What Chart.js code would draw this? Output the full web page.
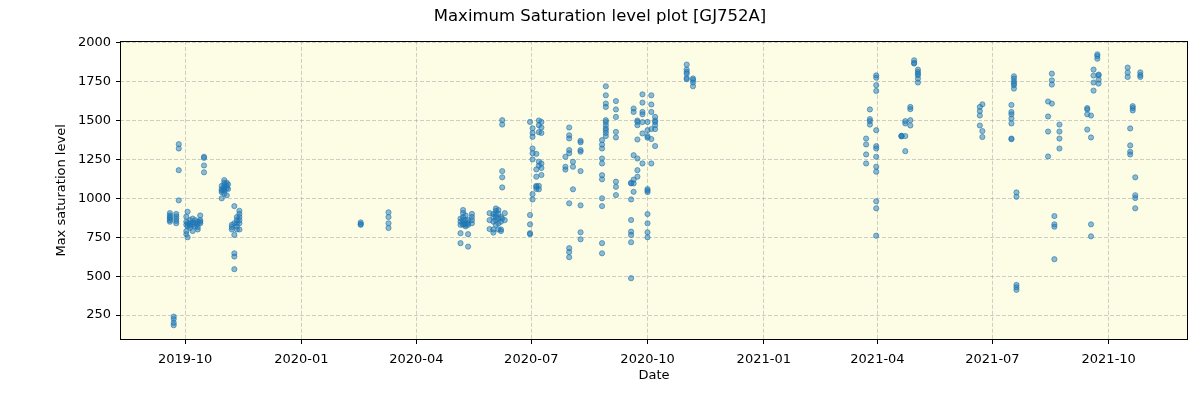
<!DOCTYPE html>
<html>
<head>
<meta charset="utf-8">
<script src="https://cdn.jsdelivr.net/npm/chart.js@4.4.0/dist/chart.umd.min.js"></script>
<style>
  body { margin: 0; background: #fff; }
  #wrap { width: 1200px; height: 400px; }
</style>
</head>
<body>
<div id="wrap"><canvas id="myChart" width="1200" height="400"></canvas></div>
<script>
// observation nights and the max saturation levels measured on each
const nights = [
  '2019-09-19', '2019-09-22', '2019-09-24', '2019-09-26',
  '2019-10-02', '2019-10-03', '2019-10-05', '2019-10-07', '2019-10-09', '2019-10-11', '2019-10-13', '2019-10-16',
  '2019-10-30', '2019-11-01', '2019-11-03', '2019-11-04',
  '2019-11-07', '2019-11-09', '2019-11-11', '2019-11-13',
  '2020-02-17', '2020-03-10',
  '2020-05-06', '2020-05-08', '2020-05-10', '2020-05-12', '2020-05-15',
  '2020-05-29', '2020-06-01', '2020-06-03', '2020-06-05', '2020-06-07', '2020-06-08', '2020-06-10',
  '2020-06-30', '2020-07-02', '2020-07-05', '2020-07-07', '2020-07-09',
  '2020-07-28', '2020-07-31', '2020-08-03', '2020-08-09',
  '2020-08-26', '2020-08-29', '2020-09-06',
  '2020-09-18', '2020-09-20', '2020-09-23', '2020-09-27', '2020-10-01', '2020-10-04', '2020-10-07',
  '2020-11-01', '2020-11-06',
  '2021-03-23', '2021-03-26', '2021-03-31',
  '2021-04-20', '2021-04-23', '2021-04-27', '2021-04-30', '2021-05-03',
  '2021-06-21', '2021-06-23',
  '2021-07-16', '2021-07-18', '2021-07-20',
  '2021-08-14', '2021-08-17', '2021-08-19', '2021-08-23',
  '2021-09-14', '2021-09-17', '2021-09-19', '2021-09-22', '2021-09-23',
  '2021-10-16', '2021-10-18', '2021-10-20', '2021-10-22', '2021-10-26'
];

const levels = [
  [905, 890, 880, 870, 860, 850], [240, 225, 200, 185], [900, 885, 870, 855, 840], [1348, 1320, 1181, 987],
  [882, 850, 830, 790, 770], [914, 840, 820, 750], [860, 840, 825, 810], [870, 845, 830, 790],
  [860, 840, 820], [850, 835, 815, 800], [890, 860, 850, 840], [1267, 1260, 1211, 1167],
  [1080, 1060, 1050, 1040, 1000], [1117, 1100, 1085, 1070, 1060, 1050, 1030], [1100, 1080, 1065, 1020], [1090, 1060],
  [830, 815, 800], [950, 840, 765, 647, 626, 545], [880, 860, 840, 820, 800], [920, 900, 880, 860, 840, 800],
  [845, 835, 830], [910, 880, 840, 810],
  [870, 850, 830, 776, 712], [925, 905, 880, 860, 840, 830], [890, 860, 840, 830, 820], [860, 840, 830, 770, 690], [900, 880, 860, 840],
  [905, 860, 803], [900, 880, 850, 800, 780], [935, 920, 900, 880, 860, 830], [925, 900, 870, 840, 800], [880, 850, 800, 790],
  [1502, 1474, 1175, 1135, 1070, 870], [905, 860],
  [1491, 893, 833, 776, 770], [1450, 1420, 1395, 1320, 1290, 1250, 1027, 993], [1286, 1186, 1139, 1080, 1074, 1060],
  [1500, 1470, 1425, 1235, 1210, 1080, 1058], [1491, 1455, 1420, 1224, 1195, 1150],
  [1267, 1203, 1185], [1455, 1405, 1385, 1310, 1290, 968, 680, 655, 622], [1235, 1203, 1058],
  [1370, 1360, 1310, 1300, 1175, 955, 782, 737],
  [1374, 1345, 1320, 1256, 1224, 1149, 1122, 1000, 950, 712, 647],
  [1720, 1662, 1609, 1587, 1502, 1490, 1470, 1450, 1438, 1420, 1400],
  [1625, 1571, 1523, 1427, 1391, 1107, 1074, 1021],
  [1100, 1096, 993, 861, 786, 765, 718, 487], [1577, 1555, 1277, 1120, 1096, 1042],
  [1500, 1491, 1470, 1378, 1256, 1181, 1139], [1668, 1615, 1555, 1540, 1490, 1417, 1224],
  [1491, 1438, 1400, 1390, 1060, 1050, 1040, 899, 840, 782, 750],
  [1662, 1603, 1555, 1445, 1381, 1224], [1523, 1500, 1491, 1470, 1445, 1336],
  [1859, 1827, 1812, 1800, 1773, 1765], [1770, 1760, 1744, 1720],
  [1384, 1346, 1282, 1224], [1571, 1509, 1496, 1474],
  [1790, 1775, 1727, 1690, 1438, 1335, 1320, 1267, 1203, 1171, 981, 936, 760],
  [1401, 1401, 1398], [1496, 1481, 1400, 1303], [1587, 1573, 1502, 1468], [1887, 1866, 1870], [1827, 1812, 1800, 1790, 1769, 1744],
  [1587, 1561, 1532, 1468], [1604, 1432, 1394],
  [1600, 1555, 1540, 1513, 1481, 1384, 1380], [1784, 1769, 1750, 1737, 1727, 1705], [1038, 1010, 444, 429, 412],
  [1622, 1526, 1429, 1269], [1801, 1758, 1731, 1609], [886, 833, 818, 609], [1474, 1429, 1384, 1320],
  [1580, 1571, 1540, 1442], [1532, 1391, 833, 756], [1827, 1789, 1744, 1692], [1925, 1914, 1897], [1795, 1763, 1737, 1790],
  [1840, 1808, 1780], [1449, 1340, 1299, 1282], [1592, 1580, 1565], [1135, 1020, 1002, 936], [1809, 1792, 1780]
];

const xTickDates = ['2019-10-01', '2020-01-01', '2020-04-01', '2020-07-01', '2020-10-01',
                    '2021-01-01', '2021-04-01', '2021-07-01', '2021-10-01'];
const yTicks = [250, 500, 750, 1000, 1250, 1500, 1750, 2000];

const points = [];
nights.forEach((d, i) => {
  levels[i].forEach(v => points.push({ x: Date.parse(d), y: v }));
});

const FONT = 'DejaVu Sans';

// yellow plot background and black box around the plot area
const plotFrame = {
  id: 'plotFrame',
  beforeDraw(chart) {
    const { ctx, chartArea: a } = chart;
    ctx.save();
    ctx.fillStyle = '#fdfce4';
    ctx.fillRect(a.left, a.top, a.right - a.left, a.bottom - a.top);
    ctx.restore();
  },
  afterDraw(chart) {
    const { ctx, chartArea: a } = chart;
    ctx.save();
    ctx.strokeStyle = '#000';
    ctx.lineWidth = 1;
    ctx.strokeRect(Math.round(a.left) + 0.5, Math.round(a.top) + 0.5,
                   Math.round(a.right - a.left) - 1, Math.round(a.bottom - a.top) - 1);
    ctx.restore();
  }
};

const gridOpts = {
  color: 'rgba(160,160,160,0.5)',
  lineWidth: 1,
  tickColor: '#000',
  tickLength: 4,
  tickBorderDash: []
};

new Chart(document.getElementById('myChart').getContext('2d'), {
  type: 'scatter',
  data: {
    datasets: [{
      data: points,
      pointRadius: 2.6,
      pointHoverRadius: 2.6,
      backgroundColor: 'rgba(31,119,180,0.5)',
      borderColor: 'rgba(31,119,180,0.6)',
      borderWidth: 1
    }]
  },
  plugins: [plotFrame],
  options: {
    responsive: false,
    animation: false,
    devicePixelRatio: 1,
    layout: { padding: { left: 12, right: 12, top: 4, bottom: 13 } },
    plugins: {
      legend: { display: false },
      tooltip: { enabled: false },
      title: {
        display: true,
        text: 'Maximum Saturation level plot [GJ752A]',
        color: '#000',
        font: { family: FONT, size: 16.5, weight: 'normal' },
        padding: { top: 3, bottom: 14 }
      }
    },
    scales: {
      x: {
        type: 'linear',
        min: Date.parse('2019-08-10T12:00:00Z'),
        max: Date.parse('2021-12-02T18:00:00Z'),
        afterBuildTicks: axis => { axis.ticks = xTickDates.map(d => ({ value: Date.parse(d) })); },
        afterFit: scale => { scale.height = 47; },
        grid: gridOpts,
        border: { display: false, dash: [4, 2] },
        ticks: {
          autoSkip: false,
          maxRotation: 0,
          padding: 8,
          color: '#000',
          font: { family: FONT, size: 13 },
          callback: v => new Date(v).toISOString().slice(0, 7)
        },
        title: { display: true, text: 'Date', color: '#000', font: { family: FONT, size: 13 } }
      },
      y: {
        min: 90,
        max: 2012,
        afterBuildTicks: axis => { axis.ticks = yTicks.map(v => ({ value: v })); },
        afterFit: scale => { scale.width = 108; },
        grid: gridOpts,
        border: { display: false, dash: [4, 2] },
        ticks: {
          padding: 5,
          color: '#000',
          font: { family: FONT, size: 13 },
          callback: v => String(v)
        },
        title: {
          display: true, text: 'Max saturation level', color: '#000',
          font: { family: FONT, size: 13 },
          padding: { top: 42, bottom: 4 }
        }
      }
    }
  }
});
</script>
</body>
</html>
